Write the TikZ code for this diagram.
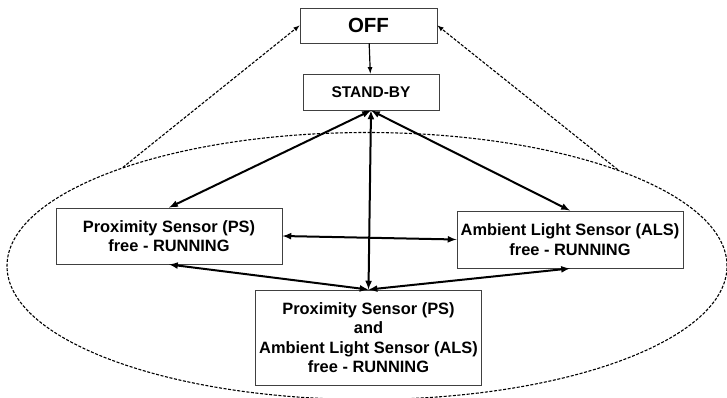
\documentclass[tikz,border=0pt]{standalone}
\usepackage{fontspec}
\setmainfont{Liberation Sans}
\usetikzlibrary{arrows,shapes.geometric}

\begin{document}
\begin{tikzpicture}[x=1pt,y=-1pt,
	durum/.style={draw=black!75,line width=0.9pt,align=center,inner sep=0pt,font=\bfseries\fontsize{16.4}{19.5}\selectfont},
	gecis/.style={latex-latex,line width=2pt},
	kesik/.style={-latex,line width=1.1pt,dash pattern=on 3pt off 1.6pt}]
\useasboundingbox (0,0) rectangle (727,397);
\node [ellipse,draw,line width=1.1pt,dash pattern=on 3pt off 1.6pt,minimum width=720pt,minimum height=267pt,inner sep=0pt] (dongu) at (367,266) {};
\node [durum,minimum width=137pt,minimum height=35pt,font=\bfseries\fontsize{20.5}{24}\selectfont] (off) at (368.5,25.5) {OFF};
\node [durum,minimum width=136pt,minimum height=36pt,font=\bfseries\fontsize{15.5}{18}\selectfont] (bekle) at (371,92) {STAND-BY};
\node [durum,minimum width=226pt,minimum height=56pt] (ps) at (169,236) {Proximity Sensor (PS)\\free - RUNNING};
\node [durum,minimum width=226pt,minimum height=57pt] (als) at (570,239.5) {Ambient Light Sensor (ALS)\\free - RUNNING};
\node [durum,minimum width=226pt,minimum height=95pt] (ikisi) at (368.5,337.5) {Proximity Sensor (PS)\\and\\Ambient Light Sensor (ALS)\\free - RUNNING};
\draw [-latex,line width=1.2pt] (off) -- (bekle) ;
\draw [gecis] (bekle.south) -- (ps.north);
\draw [gecis] (bekle.south) -- (als.north);
\draw [gecis] (bekle.south) -- (ikisi.north);
\draw [gecis] (ps.east) -- (als.west);
\draw [gecis] (ps.south) -- (ikisi.north);
\draw [gecis] (als.south) -- (ikisi.north);
\draw [kesik] (dongu.158.5) -- (off.west);
\draw [kesik] (dongu.21.3) -- (off.east);
\end{tikzpicture}
\end{document}
